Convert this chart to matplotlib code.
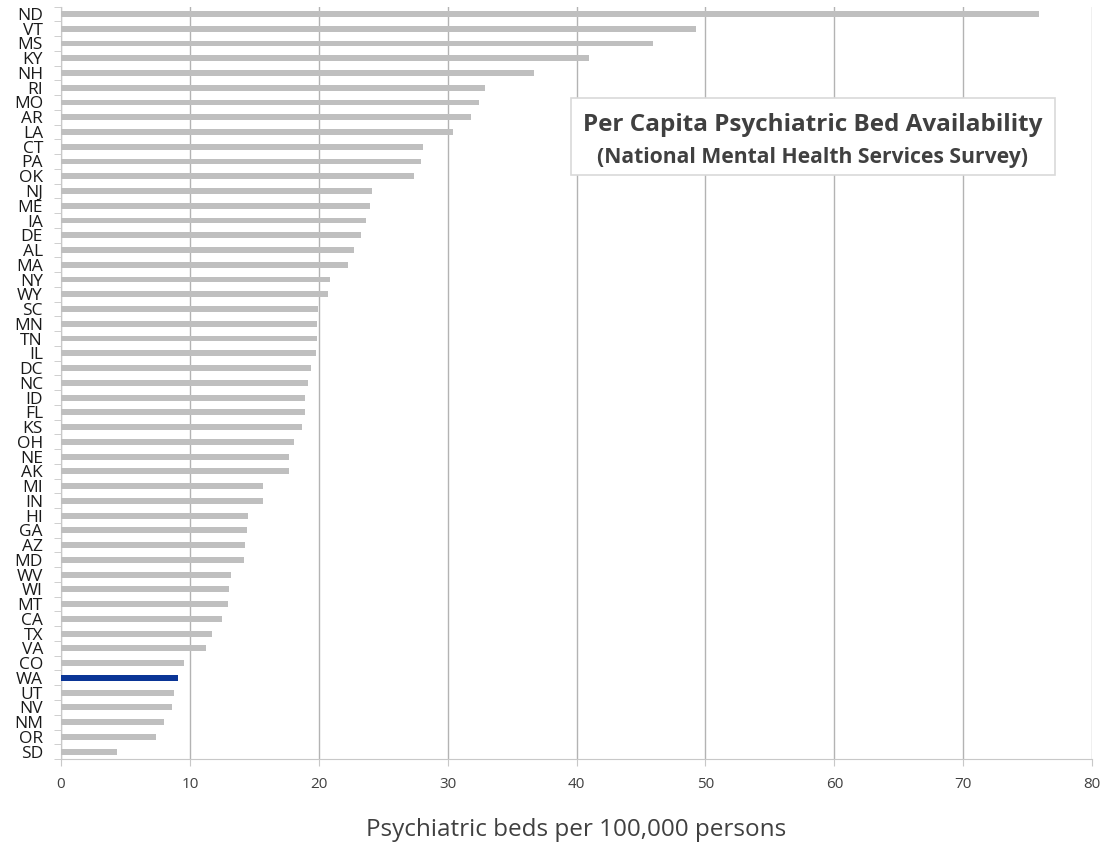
import matplotlib
matplotlib.use("Agg")
import matplotlib.pyplot as plt
from matplotlib.patches import Rectangle
import numpy as np

states = ["ND", "VT", "MS", "KY", "NH", "RI", "MO", "AR", "LA", "CT", "PA", "OK",
          "NJ", "ME", "IA", "DE", "AL", "MA", "NY", "WY", "SC", "MN", "TN", "IL",
          "DC", "NC", "ID", "FL", "KS", "OH", "NE", "AK", "MI", "IN", "HI", "GA",
          "AZ", "MD", "WV", "WI", "MT", "CA", "TX", "VA", "CO", "WA", "UT", "NV",
          "NM", "OR", "SD"]
beds = [75.9, 49.3, 45.95, 41.0, 36.7, 32.9, 32.4, 31.8, 30.4, 28.1, 27.95, 27.4,
        24.15, 24.0, 23.65, 23.3, 22.7, 22.3, 20.85, 20.75, 19.97, 19.85, 19.85, 19.8,
        19.4, 19.2, 18.9, 18.9, 18.7, 18.1, 17.7, 17.7, 15.7, 15.7, 14.5, 14.4,
        14.3, 14.2, 13.2, 13.05, 12.98, 12.5, 11.75, 11.25, 9.56, 9.07, 8.76, 8.6,
        8.0, 7.4, 4.35]
highlight = "WA"

title = "Per Capita Psychiatric Bed Availability"
subtitle = "(National Mental Health Services Survey)"
xlabel = "Psychiatric beds per 100,000 persons"

plt.rcParams['font.family'] = ['Open Sans', 'DejaVu Sans']
text_col = "#404040"
grid_col = "#b3b3b3"
axis_col = "#c8c8c8"

fig = plt.figure(figsize=(11.12, 8.44), dpi=100)
ax = fig.add_axes([0.0549, 0.1007, 0.9272, 0.8915])

y = np.arange(len(states))
colors = ["#0a3596" if s == highlight else "#bfbfbf" for s in states]
ax.barh(y, beds, height=0.4, color=colors, zorder=3)

ax.set_ylim(len(states) - 0.5, -0.5)
ax.set_xlim(0, 80)
ax.set_xticks(np.arange(0, 81, 10))
ax.set_yticks(y)
ax.set_yticklabels(states)
ax.set_yticks(np.arange(-0.5, len(states)), minor=True)

ax.xaxis.grid(True, color=grid_col, linewidth=1, zorder=0)
ax.set_axisbelow(True)
for side in ["top", "right"]:
    ax.spines[side].set_visible(False)
for side in ["left", "bottom"]:
    ax.spines[side].set_color(axis_col)

ax.tick_params(axis="y", which="major", length=0, pad=13, labelsize=12.5,
               labelcolor="#1a1a1a")
ax.tick_params(axis="y", which="minor", length=5, color=axis_col)
ax.tick_params(axis="x", length=5, color=axis_col, labelsize=11,
               labelcolor=text_col, pad=8)

# x axis title placed in figure coords so it stays inside the canvas
fig.text(0.5185, 0.0166, xlabel, ha="center", va="center", fontsize=17.5,
         color=text_col)

# title box
fig.patches.append(Rectangle((0.5135, 0.7927), 0.4353, 0.0912,
                             transform=fig.transFigure, facecolor="white",
                             edgecolor="#d9d9d9", linewidth=1.2, zorder=5))
fig.text(0.7311, 0.8519, title, ha="center", va="center", fontsize=17.5,
         fontweight="bold", color=text_col, zorder=6)
fig.text(0.7311, 0.8128, subtitle, ha="center", va="center", fontsize=15.2,
         fontweight="bold", color=text_col, zorder=6)

fig.savefig("out.png", dpi=100)
